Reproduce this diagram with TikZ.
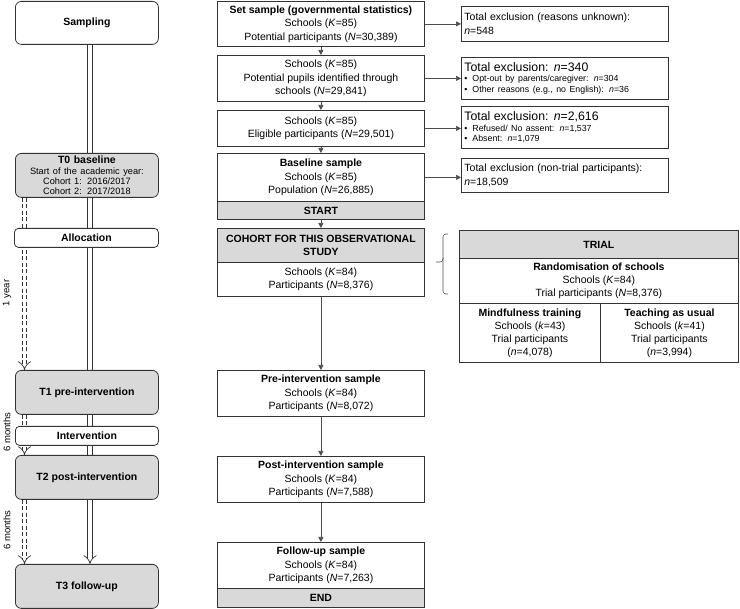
\documentclass[tikz,border=0pt]{standalone}
\usepackage{fontspec}
\setmainfont{Liberation Sans}
\usetikzlibrary{arrows.meta}
\pgfdeclarelayer{bg}
\pgfsetlayers{bg,main}
\definecolor{linecol}{HTML}{333333}
\definecolor{grayfill}{HTML}{D9D9D9}
\definecolor{arrcol}{HTML}{4D4D4D}
\newcommand{\fsz}[2]{\fontsize{#1}{#2}\selectfont}
\begin{document}
\begin{tikzpicture}[x=1pt,y=1pt,
  box/.style={draw=linecol, line width=0.8pt, fill=white, inner sep=2pt, align=center, anchor=north west, font=\fsz{10.5}{13.5}},
  gbox/.style={box, fill=grayfill},
  rbox/.style={box, rounded corners=6pt},
  rgbox/.style={rbox, fill=grayfill},
  ebox/.style={box, align=left, inner xsep=3pt},
  arr/.style={draw=arrcol, line width=0.7pt, -{Triangle[length=5pt,width=5pt]}},
  dbl/.style={draw=linecol, line width=0.7pt, double=white, double distance=4pt},
  dsh/.style={draw=linecol, line width=0.7pt, dash pattern=on 4pt off 2.5pt},
  lbl/.style={rotate=90, font=\fsz{9.5}{10}},
]
\useasboundingbox (0,0) rectangle (740,-609);

% ---------- left column ----------
\node[rbox, minimum width=143pt, minimum height=43pt, font=\fsz{10.5}{12}\bfseries] (samp) at (15,-1) {Sampling};
\node[rgbox, minimum width=143pt, minimum height=44pt, text width=139pt] (t0) at (15,-153)
  {{\fsz{10.5}{11.5}\textbf{T0 baseline}\par}{\fsz{9.2}{10.3}Start of the academic year:\par Cohort 1: 2016/2017\par Cohort 2: 2017/2018\par}};
\node[rbox, rounded corners=4pt, minimum width=144pt, minimum height=19pt, font=\fsz{10.5}{12}\bfseries] (alloc) at (14,-228) {Allocation};
\node[rgbox, minimum width=143pt, minimum height=44pt, font=\fsz{10.5}{12}\bfseries] (t1) at (15,-370) {T1 pre-intervention};
\node[rbox, rounded corners=4pt, minimum width=143pt, minimum height=19pt, font=\fsz{10.5}{12}\bfseries] (interv) at (15,-426) {Intervention};
\node[rgbox, minimum width=143pt, minimum height=44pt, font=\fsz{10.5}{12}\bfseries] (t2) at (15,-455) {T2 post-intervention};
\node[rgbox, minimum width=143pt, minimum height=44pt, font=\fsz{10.5}{12}\bfseries] (t3) at (15,-564) {T3 follow-up};

\coordinate (dlx) at (90,0);
\coordinate (dsa) at (22.5,0);
\coordinate (dsb) at (26.5,0);
\coordinate (dsm) at (24.5,0);

\node[lbl] (lab1) at (7,-293) {1 year};
\node[lbl] (lab2) at (7,-432) {6 months};
\node[lbl] (lab3) at (7,-530) {6 months};

% ---------- centre column ----------
\node[box, minimum width=207pt, minimum height=45pt] (b1) at (217,-1)
  {\textbf{Set sample (governmental statistics)}\\Schools (\textit{K}=85)\\Potential participants (\textit{N}=30,389)};
\node[box, minimum width=207pt, minimum height=46pt] (b2) at (217,-55)
  {Schools (\textit{K}=85)\\Potential pupils identified through\\schools (\textit{N}=29,841)};
\node[box, minimum width=207pt, minimum height=36pt] (b3) at (217,-110)
  {Schools (\textit{K}=85)\\Eligible participants (\textit{N}=29,501)};
\node[box, minimum width=207pt, minimum height=48pt] (b4) at (217,-153)
  {\textbf{Baseline sample}\\Schools (\textit{K}=85)\\Population (\textit{N}=26,885)};
\node[gbox, minimum width=207pt, minimum height=18pt, font=\fsz{10.5}{12}\bfseries] (start) at (217,-201) {START};
\node[gbox, minimum width=207pt, minimum height=34pt, font=\fsz{10.5}{13}\bfseries] (coh) at (217,-228)
  {COHORT FOR THIS OBSERVATIONAL\\STUDY};
\node[box, minimum width=207pt, minimum height=34pt] (cohb) at (217,-262)
  {Schools (\textit{K}=84)\\Participants (\textit{N}=8,376)};
\node[box, minimum width=207pt, minimum height=46pt] (pre) at (217,-370)
  {\textbf{Pre-intervention sample}\\Schools (\textit{K}=84)\\Participants (\textit{N}=8,072)};
\node[box, minimum width=207pt, minimum height=46pt] (post) at (217,-456)
  {\textbf{Post-intervention sample}\\Schools (\textit{K}=84)\\Participants (\textit{N}=7,588)};
\node[box, minimum width=207pt, minimum height=46pt] (fol) at (217,-542)
  {\textbf{Follow-up sample}\\Schools (\textit{K}=84)\\Participants (\textit{N}=7,263)};
\node[gbox, minimum width=207pt, minimum height=19pt, font=\fsz{10.5}{12}\bfseries] (endn) at (217,-588) {END};

% ---------- exclusion boxes ----------
\node[ebox, minimum width=207pt, minimum height=35pt, text width=201pt] (e1) at (461,-6)
  {Total exclusion (reasons unknown):\\\textit{n}=548};
\node[ebox, minimum width=207pt, minimum height=42pt, text width=201pt] (e2) at (461,-57)
  {{\fsz{12.3}{13}Total exclusion: \textit{n}=340\par}{\fsz{8.8}{10.5}\textbullet\hspace{5pt}Opt-out by parents/caregiver: \textit{n}=304\par\textbullet\hspace{5pt}Other reasons (e.g., no English): \textit{n}=36\par}};
\node[ebox, minimum width=207pt, minimum height=42pt, text width=201pt] (e3) at (461,-106)
  {{\fsz{12.3}{13}Total exclusion: \textit{n}=2,616\par}{\fsz{8.8}{10.5}\textbullet\hspace{5pt}Refused/ No assent: \textit{n}=1,537\par\textbullet\hspace{5pt}Absent: \textit{n}=1,079\par}};
\node[ebox, minimum width=207pt, minimum height=34pt, text width=201pt] (e4) at (461,-158)
  {Total exclusion (non-trial participants):\\\textit{n}=18,509};

% ---------- trial ----------
\node[gbox, minimum width=279pt, minimum height=28pt, font=\fsz{10.5}{12}\bfseries] (trh) at (459,-230) {TRIAL};
\node[box, minimum width=279pt, minimum height=45pt, font=\fsz{10.5}{13}] (trr) at (459,-258)
  {\textbf{Randomisation of schools}\\Schools (\textit{K}=84)\\Trial participants (\textit{N}=8,376)};
\node[box, minimum width=141pt, minimum height=59pt, font=\fsz{10.5}{13}] (trm) at (459,-303)
  {\textbf{Mindfulness training}\\Schools (\textit{k}=43)\\Trial participants\\(\textit{n}=4,078)};
\node[box, minimum width=138pt, minimum height=59pt, font=\fsz{10.5}{13}] (trt) at (600,-303)
  {\textbf{Teaching as usual}\\Schools (\textit{k}=41)\\Trial participants\\(\textit{n}=3,994)};

% brace
\draw[draw=arrcol, line width=0.6pt, rounded corners=3pt]
  (448,-234) -- (443,-234) -- (443,-262) -- (436,-262);
\draw[draw=arrcol, line width=0.6pt, rounded corners=3pt]
  (443,-258) -- (443,-294) -- (448,-294);

% ---------- connectors ----------
\begin{pgfonlayer}{bg}
\draw[dbl, -{Implies}] (samp.south -| dlx) -- (t3.north -| dlx);
% dashed time spans
\draw[dsh] (t0.south -| dsa) -- ([yshift=4pt]t1.north -| dsa);
\draw[dsh] (t0.south -| dsb) -- ([yshift=4pt]t1.north -| dsb);
\draw[dbl, -{Implies}] ([yshift=4pt]t1.north -| dsm) -- (t1.north -| dsm);
\draw[dsh] (t1.south -| dsa) -- ([yshift=4pt]t2.north -| dsa);
\draw[dsh] (t1.south -| dsb) -- ([yshift=4pt]t2.north -| dsb);
\draw[dbl, -{Implies}] ([yshift=4pt]t2.north -| dsm) -- (t2.north -| dsm);
\draw[dsh] (t2.south -| dsa) -- ([yshift=4pt]t3.north -| dsa);
\draw[dsh] (t2.south -| dsb) -- ([yshift=4pt]t3.north -| dsb);
\draw[dbl, -{Implies}] ([yshift=4pt]t3.north -| dsm) -- (t3.north -| dsm);
\end{pgfonlayer}

\draw[arr] (b1.south) -- (b2.north);
\draw[arr] (b2.south) -- (b3.north);
\draw[arr] (b3.south) -- (b4.north);
\draw[arr] (start.south) -- (coh.north);
\draw[arr] (cohb.south) -- (pre.north);
\draw[arr] (pre.south) -- (post.north);
\draw[arr] (post.south) -- (fol.north);

\draw[arr] (b1.east) -- (b1.east -| e1.west);
\draw[arr] (b2.east) -- (b2.east -| e2.west);
\draw[arr] (b3.east) -- (b3.east -| e3.west);
\draw[arr] (b4.east) -- (b4.east -| e4.west);
\end{tikzpicture}
\end{document}
